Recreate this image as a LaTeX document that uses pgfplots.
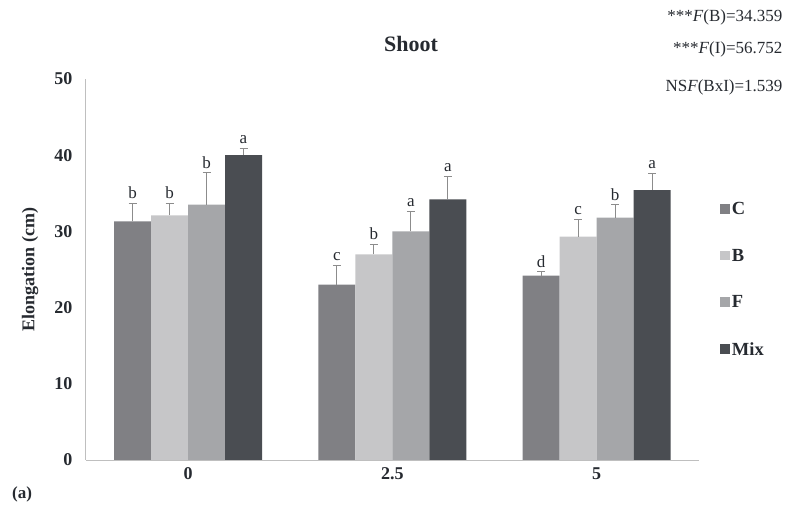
\documentclass[border=0pt]{standalone}
\usepackage{pgfplots}
\pgfplotsset{compat=1.18}
\usepackage{pgfplotstable}
\usepackage{fontspec}
\setmainfont{Liberation Serif}
\definecolor{cC}{HTML}{808084}
\definecolor{cB}{HTML}{C6C6C8}
\definecolor{cF}{HTML}{A5A6A9}
\definecolor{cM}{HTML}{4A4D52}
\definecolor{axc}{HTML}{BFBFBF}
\definecolor{errc}{HTML}{8C8C8C}
\definecolor{txt}{HTML}{262A30}

\pgfplotstableread{
x y e l
0 31.3 2.4 b
1 23.0 2.5 c
2 24.2 0.5 d
}\tC
\pgfplotstableread{
x y e l
0 32.1 1.6 b
1 27.0 1.3 b
2 29.3 2.3 c
}\tB
\pgfplotstableread{
x y e l
0 33.5 4.2 b
1 30.0 2.6 a
2 31.8 1.7 b
}\tF
\pgfplotstableread{
x y e l
0 40.0 0.9 a
1 34.2 3.0 a
2 35.4 2.2 a
}\tM

\begin{document}
\begin{tikzpicture}
\useasboundingbox (0pt,0pt) rectangle (788pt,516pt);
\begin{axis}[
  at={(188pt,56pt)}, anchor=origin,
  scale only axis, width=613pt, height=381pt,
  ybar=0pt, bar width=37pt,
  xmin=-0.5, xmax=2.5, ymin=0, ymax=50,
  xtick={0,1,2}, xticklabels={0,2.5,5},
  ytick={0,10,20,30,40,50},
  axis x line*=bottom, axis y line*=left,
  axis line style={draw=axc, line width=0.8pt, -},
  major tick length=0pt,
  /pgf/number format/assume math mode=true,
  ticklabel style={font=\fontsize{18}{20}\selectfont\bfseries, text=txt},
  yticklabel style={xshift=-10pt},
  xticklabel style={yshift=-4pt},
  ylabel={Elongation (cm)},
  ylabel style={font=\fontsize{18}{20}\selectfont\bfseries, text=txt, yshift=9pt},
  legend style={at={(1.03,0.474)}, anchor=west, draw=none, fill=none,
    font=\fontsize{18.5}{20}\selectfont\bfseries, text=txt,
    row sep=29pt, legend cell align=left},
  legend image code/.code={\fill[#1] (0pt,-4.5pt) rectangle (9.5pt,5pt);},
  error bars/y dir=plus, error bars/y explicit,
  error bars/error bar style={draw=errc, line width=0.9pt},
  error bars/error mark options={rotate=90, mark size=4pt, draw=errc, line width=0.9pt},
  nodes near coords, point meta=explicit symbolic,
  every node near coord/.append style={font=\fontsize{17}{19}\selectfont, text=txt, anchor=south, yshift=\myerr*7.62pt+1pt},
]
\addplot[fill=cC, draw=none, visualization depends on={\thisrow{e} \as \myerr}] table[x=x,y=y,y error=e,meta=l]{\tC};
\addlegendentry{C}
\addplot[fill=cB, draw=none, visualization depends on={\thisrow{e} \as \myerr}] table[x=x,y=y,y error=e,meta=l]{\tB};
\addlegendentry{B}
\addplot[fill=cF, draw=none, visualization depends on={\thisrow{e} \as \myerr}] table[x=x,y=y,y error=e,meta=l]{\tF};
\addlegendentry{F}
\addplot[fill=cM, draw=none, visualization depends on={\thisrow{e} \as \myerr}] table[x=x,y=y,y error=e,meta=l]{\tM};
\addlegendentry{Mix}
\end{axis}
\node[font=\fontsize{22}{24}\selectfont\bfseries, text=txt] at (411pt,472pt) {Shoot};
\node[anchor=east, font=\fontsize{17}{19}\selectfont, text=txt] at (786pt,499pt) {***\textit{F}(B)=34.359};
\node[anchor=east, font=\fontsize{17}{19}\selectfont, text=txt] at (786pt,467pt) {***\textit{F}(I)=56.752};
\node[anchor=east, font=\fontsize{17}{19}\selectfont, text=txt] at (786pt,429pt) {NS\textit{F}(BxI)=1.539};
\node[font=\fontsize{17}{19}\selectfont\bfseries, text=txt] at (22pt,22pt) {(a)};
\end{tikzpicture}
\end{document}
